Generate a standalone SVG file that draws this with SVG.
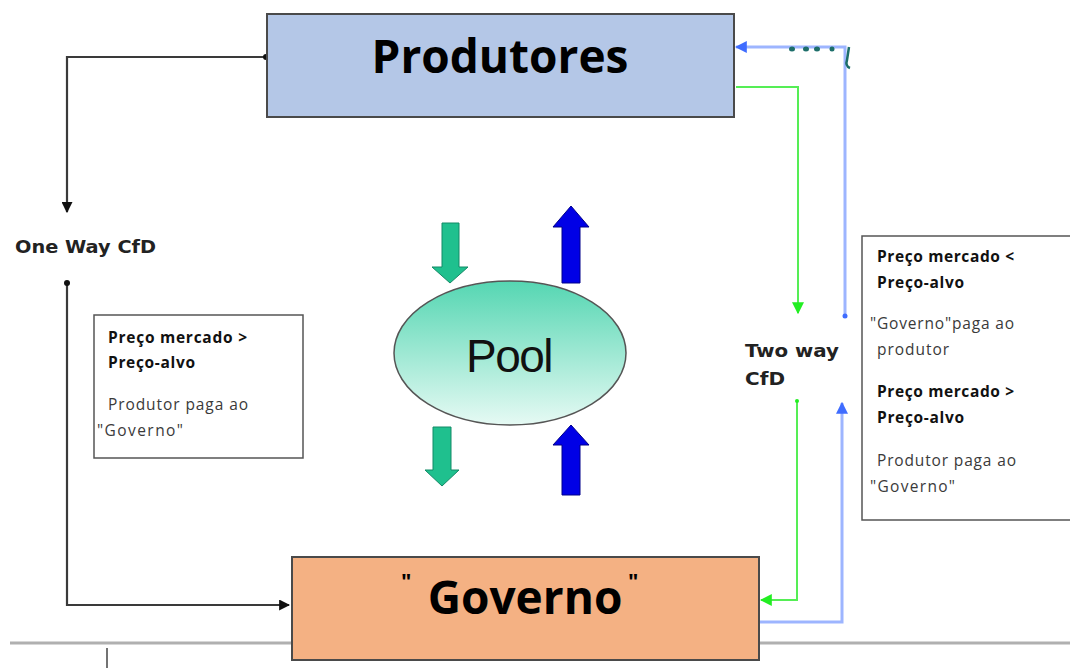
<svg xmlns="http://www.w3.org/2000/svg" width="1070" height="668" viewBox="0 0 1070 668">
  <style>
    .box { stroke: #4a4a4a; stroke-width: 2; }
    .title { font-family: "Open Sans", "Liberation Sans", sans-serif; font-weight: bold; fill: #000; }
    .lbl { font-family: "DejaVu Sans", "Liberation Sans", sans-serif; font-weight: bold; fill: #222; }
    .note { font-family: "Open Sans", "Liberation Sans", sans-serif; font-size: 15.5px; fill: #3a3a3a; }
    .note.b { font-weight: bold; fill: #111; }
    .gray { stroke: #3a3a3a; stroke-width: 2.2; fill: none; }
    .green { stroke: #55ee55; stroke-width: 2; fill: none; }
    .blue { stroke: #9db5ff; stroke-width: 3; fill: none; }
    .notebox { fill: #fff; stroke: #555; stroke-width: 1.5; }
  </style>
  <defs>
    <marker id="ahGray" viewBox="0 0 10 10" refX="9" refY="5" markerWidth="5" markerHeight="5" orient="auto" markerUnits="strokeWidth">
      <path d="M0,0 L10,5 L0,10 z" fill="#111"/>
    </marker>
    <marker id="ahGreen" viewBox="0 0 10 10" refX="9" refY="5" markerWidth="6" markerHeight="6" orient="auto" markerUnits="strokeWidth">
      <path d="M0,0 L10,5 L0,10 z" fill="#22ee22"/>
    </marker>
    <marker id="ahBlue" viewBox="0 0 10 10" refX="9" refY="5" markerWidth="4" markerHeight="4" orient="auto" markerUnits="strokeWidth">
      <path d="M0,0 L10,5 L0,10 z" fill="#3f6cff"/>
    </marker>
    <linearGradient id="poolFill" x1="0" y1="0" x2="0" y2="1">
      <stop offset="0" stop-color="#55d6b2"/>
      <stop offset="1" stop-color="#e6faf4"/>
    </linearGradient>
  </defs>

  <rect width="1070" height="668" fill="#fff"/>

  <!-- page rule and tick at the bottom -->
  <line x1="10" y1="643" x2="1070" y2="643" stroke="#b0b0b0" stroke-width="3"/>
  <line x1="107" y1="648" x2="107" y2="668" stroke="#444" stroke-width="1.5"/>

  <g id="connectors">
    <!-- one way CfD -->
    <polyline class="gray" points="266,57 67,57 67,212" marker-end="url(#ahGray)"/>
    <circle cx="266" cy="57" r="3" fill="#111"/>
    <polyline class="gray" points="67,283 67,605 289,605" marker-end="url(#ahGray)"/>
    <circle cx="67" cy="283" r="3" fill="#111"/>
    <!-- two way CfD, green -->
    <polyline class="green" points="736,87 798,87 798,313" marker-end="url(#ahGreen)"/>
    <polyline class="green" points="797,401 797,600 761,600" marker-end="url(#ahGreen)"/>
    <circle cx="797" cy="401" r="2" fill="#22ee22"/>
    <!-- two way CfD, blue -->
    <polyline class="blue" points="845,316 845,47 736,47" marker-end="url(#ahBlue)"/>
    <circle cx="845" cy="316" r="2.5" fill="#3f6cff"/>
    <polyline class="blue" points="760,622 842,622 842,403" marker-end="url(#ahBlue)"/>
    <!-- small marks on the upper blue line -->
    <g fill="#1d6e6a">
      <ellipse cx="792" cy="49" rx="3" ry="2.5"/>
      <ellipse cx="806" cy="49" rx="3" ry="2.5"/>
      <ellipse cx="817" cy="49" rx="3" ry="2.5"/>
      <ellipse cx="832" cy="49" rx="2.5" ry="2.5"/>
      <path d="M849,47 L847,60 Q845,66 850,68" stroke="#1d6e6a" stroke-width="2.5" fill="none"/>
    </g>
  </g>

  <g id="produtores">
    <rect class="box" x="267" y="14" width="467" height="103" fill="#b4c7e7"/>
    <text class="title" x="500" y="73" font-size="46" text-anchor="middle">Produtores</text>
  </g>

  <g id="governo">
    <rect class="box" x="292" y="557" width="467" height="103" fill="#f4b183"/>
    <text class="title" x="525" y="614" font-size="46" text-anchor="middle">Governo</text>
    <text class="title" x="401" y="589" font-size="22">"</text>
    <text class="title" x="628" y="589" font-size="22">"</text>
  </g>

  <g id="one-way-cfd">
    <text class="lbl" x="15" y="253" font-size="18.5" textLength="141" lengthAdjust="spacingAndGlyphs">One Way CfD</text>
  </g>

  <g id="two-way-cfd">
    <text class="lbl" x="745" y="357" font-size="17" textLength="94" lengthAdjust="spacingAndGlyphs">Two way</text>
    <text class="lbl" x="745" y="385" font-size="17" textLength="40" lengthAdjust="spacingAndGlyphs">CfD</text>
  </g>

  <g id="nota-one-way">
    <rect class="notebox" x="94" y="315" width="209" height="143"/>
    <text class="note b" x="108" y="343" textLength="139">Preço mercado &gt;</text>
    <text class="note b" x="108" y="368" textLength="87">Preço-alvo</text>
    <text class="note" x="108" y="410" textLength="140">Produtor paga ao</text>
    <text class="note" x="97" y="436" textLength="86">"Governo"</text>
  </g>

  <g id="nota-two-way">
    <rect class="notebox" x="862" y="236" width="212" height="284"/>
    <text class="note b" x="877" y="262" textLength="137">Preço mercado &lt;</text>
    <text class="note b" x="877" y="288" textLength="87">Preço-alvo</text>
    <text class="note" x="870" y="329" textLength="144">"Governo"paga ao</text>
    <text class="note" x="877" y="355" textLength="72">produtor</text>
    <text class="note b" x="877" y="397" textLength="137">Preço mercado &gt;</text>
    <text class="note b" x="877" y="423" textLength="87">Preço-alvo</text>
    <text class="note" x="877" y="466" textLength="139">Produtor paga ao</text>
    <text class="note" x="870" y="492" textLength="85">"Governo"</text>
  </g>

  <g id="pool">
    <ellipse cx="510" cy="353" rx="116" ry="72" fill="url(#poolFill)" stroke="#555" stroke-width="1.5"/>
    <text x="509" y="372" font-family="Liberation Sans, Arial, sans-serif" font-size="46" text-anchor="middle" fill="#111" letter-spacing="-1.5">Pool</text>
  </g>

  <g id="fluxos-pool">
    <!-- green down arrows -->
    <path d="M442,223 L459,223 L459,267 L468,267 L450,283 L432,267 L442,267 z" fill="#1fc08e" stroke="#138a66" stroke-width="1"/>
    <path d="M433,427 L451,427 L451,470 L459,470 L442,486 L425,470 L433,470 z" fill="#1fc08e" stroke="#138a66" stroke-width="1"/>
    <!-- blue up arrows -->
    <path d="M562,283 L580,283 L580,227 L589,227 L571,206 L553,227 L562,227 z" fill="#0000e6" stroke="#00008a" stroke-width="1"/>
    <path d="M562,495 L580,495 L580,445 L589,445 L571,425 L553,445 L562,445 z" fill="#0000e6" stroke="#00008a" stroke-width="1"/>
  </g>
</svg>
